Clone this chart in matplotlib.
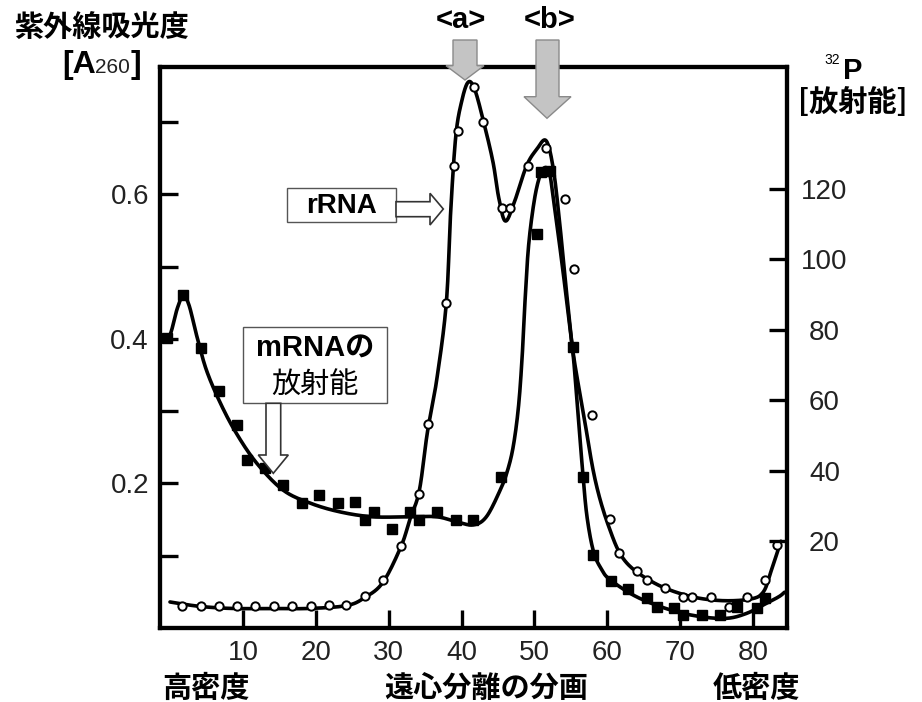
import numpy as np
import matplotlib
matplotlib.use('Agg')
import matplotlib.pyplot as plt
from matplotlib.patches import Polygon, Rectangle

plt.rcParams['font.family'] = ['Liberation Sans', 'Noto Sans CJK JP', 'DejaVu Sans']

# ---------------- data ----------------
# open circles: UV absorbance A260 (left axis)
frac_a260 = [1.6, 4.2, 6.7, 9.2, 11.7, 14.3, 16.7, 19.3, 21.8, 24.2, 26.7, 29.2, 31.7,
             34.2, 35.4, 37.9, 39.0, 39.5, 41.7, 42.9, 45.5, 46.6, 49.1, 51.6, 54.2,
             55.4, 57.9, 60.4, 61.6, 64.1, 65.4, 67.9, 70.4, 71.6, 74.2, 76.7, 79.2,
             81.6, 83.3]
a260 = [0.030, 0.031, 0.031, 0.031, 0.031, 0.031, 0.031, 0.031, 0.032, 0.032, 0.044,
        0.066, 0.113, 0.186, 0.282, 0.449, 0.639, 0.688, 0.749, 0.700, 0.581, 0.581,
        0.639, 0.664, 0.593, 0.497, 0.294, 0.151, 0.104, 0.079, 0.066, 0.055, 0.043,
        0.043, 0.043, 0.029, 0.043, 0.066, 0.115]

# filled squares: 32P radioactivity (right axis)
frac_p32 = [-0.4, 1.8, 4.3, 6.7, 9.2, 10.6, 13.0, 15.5, 18.1, 20.4, 23.0, 25.4, 26.7,
            28.0, 30.5, 32.9, 34.2, 36.6, 39.2, 41.6, 45.4, 50.3, 50.9, 52.1, 55.3,
            56.7, 58.0, 60.5, 62.8, 65.4, 66.8, 69.1, 70.4, 73.0, 75.4, 77.8, 80.5,
            81.6]
p32 = [77.6, 89.8, 74.8, 62.6, 52.9, 43.0, 40.7, 35.9, 30.8, 33.1, 30.8, 31.1, 26.0,
       28.2, 23.4, 28.2, 26.0, 28.2, 26.0, 26.0, 38.2, 107.1, 124.7, 125.0, 75.1,
       38.2, 16.1, 8.7, 6.4, 3.9, 1.3, 1.0, -1.0, -1.0, -1.0, 1.3, 1.0, 3.9]

# hand-drawn trend curves (knots)
curve_a260_x = [0.0, 4.0, 8.6, 14.0, 19.0, 24.2, 26.7, 29.2, 31.7, 32.9, 34.2, 35.3,
                36.6, 37.9, 38.5, 39.2, 40.0, 40.9, 41.8, 43.0, 44.3, 45.1, 46.0, 47.2,
                48.9, 50.3, 51.6, 52.6, 53.5, 54.4, 55.3, 56.7, 58.3, 60.2, 62.4, 66.3,
                70.9, 75.4, 79.6, 81.4, 82.5, 83.8]
curve_a260_y = [0.036, 0.030, 0.027, 0.027, 0.027, 0.031, 0.042, 0.063, 0.113, 0.150,
                0.190, 0.270, 0.344, 0.449, 0.575, 0.680, 0.728, 0.755, 0.745, 0.701,
                0.645, 0.595, 0.563, 0.588, 0.639, 0.662, 0.674, 0.634, 0.556, 0.464,
                0.381, 0.298, 0.206, 0.140, 0.093, 0.063, 0.045, 0.038, 0.040, 0.050,
                0.080, 0.120]

curve_p32_x = [-1.0, 0.0, 1.0, 1.8, 2.6, 3.7, 5.0, 6.9, 9.1, 11.9, 15.5, 19.2, 23.3,
               27.8, 32.9, 36.6, 39.3, 41.6, 43.4, 45.3, 46.3, 47.1, 47.8, 48.3, 48.7,
               49.2, 50.0, 50.8, 51.5, 52.1, 52.6, 53.7, 54.6, 55.3, 55.9, 56.6, 57.2,
               58.1, 59.2, 60.4, 64.0, 68.6, 72.7, 76.4, 79.1, 81.4, 83.5, 84.3]
curve_p32_y = [77.0, 78.5, 86.0, 89.5, 87.0, 78.0, 68.5, 59.2, 50.6, 42.1, 34.5, 30.8,
               28.3, 26.9, 26.9, 26.9, 25.5, 24.6, 26.9, 34.5, 40.0, 47.0, 58.0, 72.0,
               88.0, 104.0, 117.0, 124.0, 126.0, 124.0, 117.0, 100.0, 85.0, 73.0, 58.0,
               40.0, 27.0, 17.0, 12.0, 9.0, 4.2, 0.5, -1.4, -1.9, -0.5, 1.9, 4.2, 5.5]

x_ticks = [10, 20, 30, 40, 50, 60, 70, 80]
left_ticks = [0.1, 0.2, 0.3, 0.4, 0.5, 0.6, 0.7]
left_labels = ['', '0.2', '', '0.4', '', '0.6', '']
right_ticks = [20, 40, 60, 80, 100, 120]


def smooth(xs, ys, sx, sy, n=24):
    """Catmull-Rom spline through the knots (computed in scaled space)."""
    P = np.column_stack([np.asarray(xs) * sx, np.asarray(ys) * sy])
    P = np.vstack([P[0], P, P[-1]])
    out = []
    t = np.linspace(0, 1, n, endpoint=False)[:, None]
    for i in range(1, len(P) - 2):
        p0, p1, p2, p3 = P[i - 1], P[i], P[i + 1], P[i + 2]
        seg = 0.5 * ((2 * p1) + (-p0 + p2) * t + (2 * p0 - 5 * p1 + 4 * p2 - p3) * t ** 2
                     + (-p0 + 3 * p1 - 3 * p2 + p3) * t ** 3)
        out.append(seg)
    out.append(P[-2][None, :])
    out = np.vstack(out)
    return out[:, 0] / sx, out[:, 1] / sy


W, H = 922, 702
fig = plt.figure(figsize=(W / 100, H / 100), dpi=100)
ax = fig.add_axes([160 / W, 1 - 628 / H, (787 - 160) / W, (628 - 67) / H])
ax2 = ax.twinx()

ax.set_xlim(-1.37, 84.64)
ax.set_ylim(0.0, 0.776)
ax2.set_ylim(-4.65, 154.5)

cx, cy = smooth(curve_a260_x, curve_a260_y, 7.29, 724)
ax.plot(cx, cy, color='black', lw=2.6, solid_capstyle='round', zorder=2)
ax.plot(frac_a260, a260, linestyle='none', marker='o', ms=6, mfc='white', mec='black',
        mew=1.4, zorder=3)

px, py = smooth(curve_p32_x, curve_p32_y, 7.29, 3.526)
ax2.plot(px, py, color='black', lw=2.6, solid_capstyle='round', zorder=2)
ax2.plot(frac_p32, p32, linestyle='none', marker='s', ms=7, mfc='black', mec='black',
         zorder=3)

for a in (ax, ax2):
    for s in a.spines.values():
        s.set_linewidth(3)

ax.set_xticks(x_ticks)
ax.set_yticks(left_ticks)
ax.set_yticklabels(left_labels)
ax.tick_params(axis='both', direction='in', length=13, width=2.4, labelsize=20,
               labelcolor='#222222')
ax.tick_params(axis='x', pad=9)
ax.tick_params(axis='y', pad=8)
ax.tick_params(axis='y', which='both', right=False)
ax2.set_yticks(right_ticks)
ax2.tick_params(axis='y', direction='in', length=13, width=2.4, labelsize=20,
                labelcolor='#222222', pad=27)
for lab in ax2.get_yticklabels():
    lab.set_horizontalalignment('center')

# ---------------- overlay annotations (pixel coordinates) ----------------
ov = fig.add_axes([0, 0, 1, 1], zorder=10)
ov.set_xlim(0, W)
ov.set_ylim(H, 0)
ov.axis('off')
ov.patch.set_alpha(0)

jp = ['Noto Sans CJK JP', 'Liberation Sans']
lat = ['Liberation Sans', 'Noto Sans CJK JP']

ov.text(101, 27, '紫外線吸光度', fontsize=21, fontweight='bold', family=jp,
        ha='center', va='center')
ov.text(62, 73, '[A', fontsize=23, fontweight='bold', family=lat, ha='left', va='baseline')
ov.text(95, 73, '260', fontsize=15, family=lat, ha='left', va='baseline', color='#222222')
ov.text(131, 73, ']', fontsize=23, fontweight='bold', family=lat, ha='left', va='baseline')

ov.text(824, 64, '32', fontsize=10, family=lat, ha='left', va='baseline')
ov.text(843, 79, 'P', fontsize=21, fontweight='bold', family=lat, ha='left', va='baseline')
ov.text(853, 102, '[放射能]', fontsize=21, fontweight='bold', family=jp,
        ha='center', va='center')

ov.text(206, 688, '高密度', fontsize=21, fontweight='bold', family=jp, ha='center', va='center')
ov.text(486, 688, '遠心分離の分画', fontsize=21, fontweight='bold', family=jp,
        ha='center', va='center')
ov.text(756, 688, '低密度', fontsize=21, fontweight='bold', family=jp, ha='center', va='center')

ov.text(461, 20, '<a>', fontsize=21, fontweight='bold', family=lat, ha='center', va='center')
ov.text(550, 20, '<b>', fontsize=21, fontweight='bold', family=lat, ha='center', va='center')

gray_kw = dict(closed=True, facecolor='#c4c4c4', edgecolor='#8a8a8a', lw=1.0)
ov.add_patch(Polygon([(453, 40), (477, 40), (477, 65.7), (484, 65.7), (465, 80),
                      (446, 65.7), (453, 65.7)], **gray_kw))
ov.add_patch(Polygon([(536, 40), (559, 40), (559, 96.7), (571, 96.7), (547, 118.3),
                      (524, 96.7), (536, 96.7)], **gray_kw))

# rRNA label box + hollow arrow
ov.add_patch(Rectangle((287, 188.3), 396 - 287, 221.7 - 188.3, facecolor='white',
                       edgecolor='#555555', lw=1.0))
ov.text(341.5, 206, 'rRNA', fontsize=20, fontweight='bold', family=lat,
        ha='center', va='center')
ov.add_patch(Polygon([(396, 201.7), (430, 201.7), (430, 193.3), (443.3, 209),
                      (430, 225), (430, 216.7), (396, 216.7)], closed=True,
                     facecolor='white', edgecolor='#333333', lw=1.2))

# mRNA label box + hollow arrow
ov.add_patch(Rectangle((242.7, 326.7), 387.3 - 242.7, 403.3 - 326.7, facecolor='white',
                       edgecolor='#555555', lw=1.0))
ov.text(315, 349, 'mRNAの', fontsize=21, fontweight='bold', family=lat,
        ha='center', va='center')
ov.text(315, 385, '放射能', fontsize=21, family=jp, ha='center', va='center')
ov.add_patch(Polygon([(266, 403.3), (280.7, 403.3), (280.7, 455), (288.3, 455),
                      (273.3, 473.3), (258.3, 455), (266, 455)], closed=True,
                     facecolor='white', edgecolor='#333333', lw=1.2))

fig.savefig('out.png', dpi=100)
